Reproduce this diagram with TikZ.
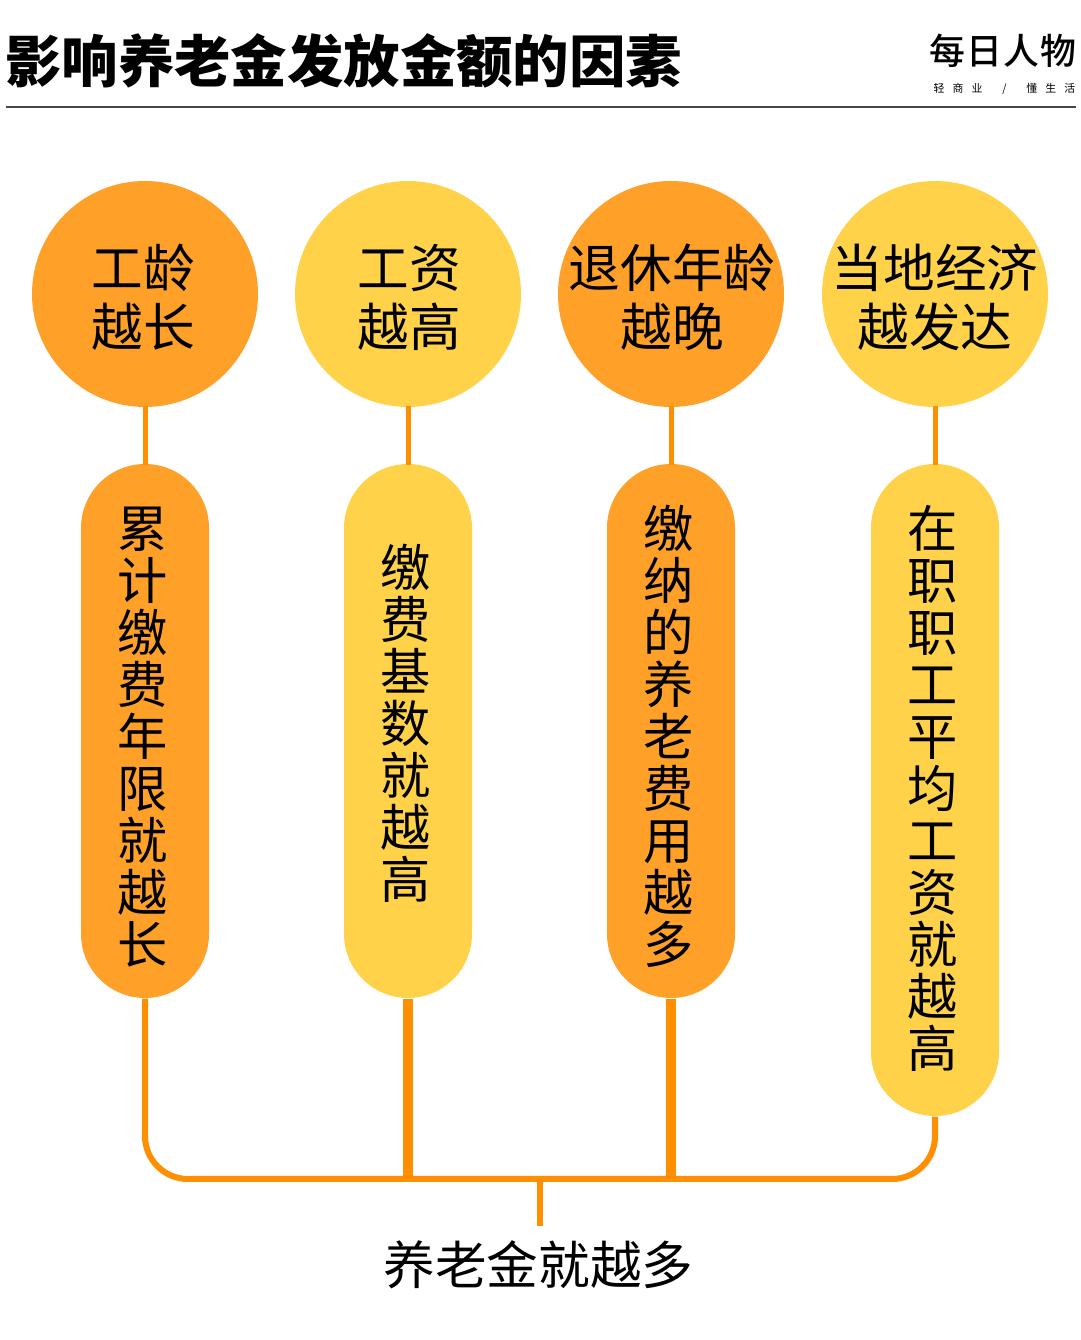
\documentclass[tikz,border=0pt]{standalone}
\usepackage{xcolor}
\usepackage{fontspec}
\setmainfont{Noto Sans CJK SC}
\newfontfamily\sloganfont[LetterSpace=75]{Noto Sans CJK SC}
\newfontfamily\brandfont[LetterSpace=3]{Noto Sans CJK SC Medium}
\usepackage{tikz}
\usetikzlibrary{positioning,calc}
\definecolor{myorange}{RGB}{255,160,40}
\definecolor{myyellow}{RGB}{255,210,74}
\definecolor{myline}{RGB}{255,143,0}
\definecolor{myrule}{RGB}{70,70,70}
\tikzset{
  circlenode/.style={circle, inner sep=0pt, minimum size=2.26cm},
  circletext/.style={inner sep=0pt, align=center, font=\fontsize{14.7}{16.8}\selectfont},
  pillnode/.style={rectangle, rounded corners=0.64cm, inner sep=0pt, minimum width=1.28cm},
  pilltext/.style={inner sep=0pt, align=center, font=\fontsize{14.3}{14.8}\selectfont},
  thinline/.style={draw=myline, line width=0.05cm, shorten <=-0.4pt, shorten >=-0.4pt},
  busline/.style={draw=myline, line width=0.06cm},
  thickline/.style={draw=myline, line width=0.1cm}
}

\begin{document}
\begin{tikzpicture}
  \useasboundingbox (0,0) rectangle (10.8,13.4);

  % Header
  \node[font=\fontsize{16.05}{16}\selectfont\bfseries, anchor=west, inner sep=0pt] (title) at (0.045,12.79) {影响养老金发放金额的因素};
  \node[font=\fontsize{10.2}{10.2}\brandfont, anchor=east, inner sep=0pt] (brand) at (10.77,12.89) {每日人物};
  \node[font=\fontsize{3.1}{3.1}\sloganfont, anchor=east, inner sep=0pt] (slogan) at (10.76,12.51) {轻商业\hspace{5.6pt}/\hspace{5.6pt}懂生活};
  \coordinate (ruleL) at (0.06,12.33);
  \coordinate (ruleR) at (10.76,12.33);
  \draw[myrule, line width=0.012cm] (ruleL) -- (ruleR);

  % Circles
  \node[circlenode, fill=myorange] (c1) at (1.45,10.46) {};
  \node[circlenode, fill=myyellow] (c2) at (4.08,10.46) {};
  \node[circlenode, fill=myorange] (c3) at (6.71,10.46) {};
  \node[circlenode, fill=myyellow] (c4) at (9.35,10.46) {};
  \node[circletext] (ct1) at (1.435,10.43) {工龄\\越长};
  \node[circletext] (ct2) at (4.09,10.43) {工资\\越高};
  \node[circletext] (ct3) at (6.72,10.43) {退休年龄\\越晚};
  \node[circletext] (ct4) at (9.35,10.43) {当地经济\\越发达};

  % Pills
  \node[pillnode, fill=myorange, minimum height=5.34cm] (p1) at (1.45,6.09) {};
  \node[pillnode, fill=myyellow, minimum height=5.34cm] (p2) at (4.08,6.09) {};
  \node[pillnode, fill=myorange, minimum height=5.34cm] (p3) at (6.71,6.09) {};
  \node[pillnode, fill=myyellow, minimum height=6.52cm] (p4) at (9.35,5.50) {};
  \node[pilltext] (pt1) at (1.43,6.03) {累\\计\\缴\\费\\年\\限\\就\\越\\长};
  \node[pilltext] (pt2) at (4.06,6.17) {缴\\费\\基\\数\\就\\越\\高};
  \node[pilltext] (pt3) at (6.69,6.04) {缴\\纳\\的\\养\\老\\费\\用\\越\\多};
  \node[pilltext] (pt4) at (9.33,5.52) {在\\职\\职\\工\\平\\均\\工\\资\\就\\越\\高};

  % Result
  \coordinate (bus) at (5.40,1.61);
  \node[font=\fontsize{14.7}{14.7}\selectfont, inner sep=0pt, minimum height=0.76cm] (result) at (5.385,0.75) {养老金就越多};

  % Connectors
  \draw[thinline] (c1) -- (p1);
  \draw[thinline] (c2) -- (p2);
  \draw[thinline] (c3) -- (p3);
  \draw[thinline] (c4) -- (p4);
  \draw[busline, rounded corners=0.43cm] (p1.south) |- (bus) -| (p4.south);
  \draw[thickline] (p2.south) -- (p2.south |- bus);
  \draw[thickline] (p3.south) -- (p3.south |- bus);
  \draw[busline] (bus) -- (bus |- result.north);
\end{tikzpicture}
\end{document}
